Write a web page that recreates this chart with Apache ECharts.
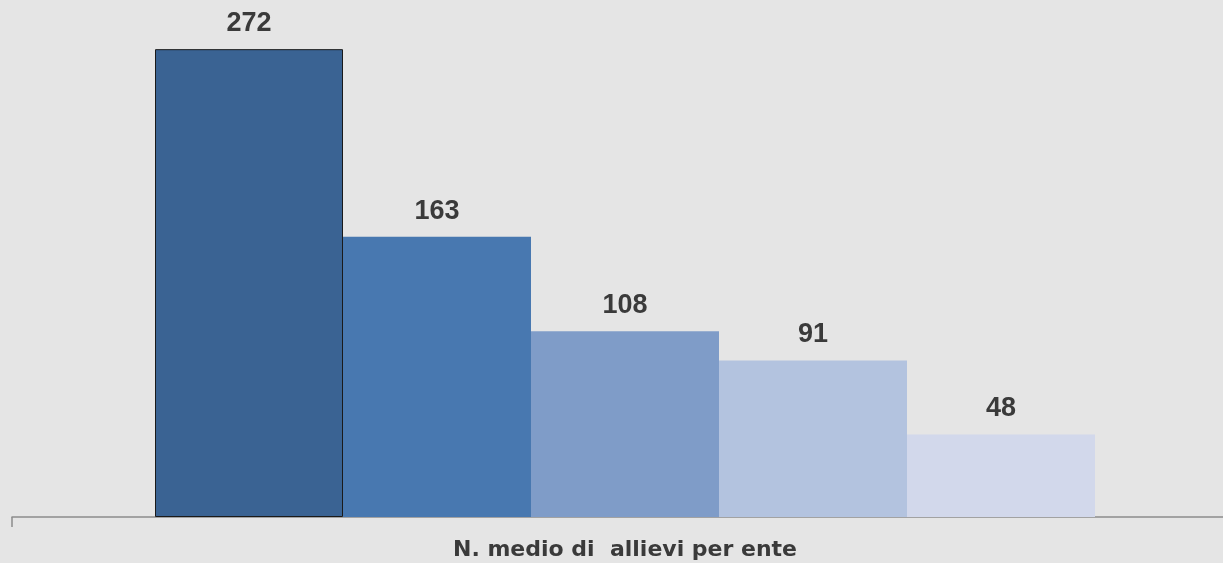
<!DOCTYPE html>
<html><head><meta charset="utf-8">
<script src="https://cdn.jsdelivr.net/npm/echarts@6/dist/echarts.min.js"></script>
<style>html,body{margin:0;padding:0;background:#e5e5e5;overflow:hidden;}#c{width:1223px;height:563px;}</style>
</head><body><div id="c"></div>
<script>
const categories = ["N. medio di  allievi per ente"];
const seriesNames = ["S1","S2","S3","S4","S5"];
const values = [272, 163, 108, 91, 48];
const colors = ["#3a6393", "#4878b0", "#7f9cc8", "#b3c3df", "#d2d8eb"];

const chart = echarts.init(document.getElementById('c'));
chart.setOption({
  backgroundColor: '#e5e5e5',
  animation: false,
  grid: {left: 12, width: 1226, top: 1, bottom: 46, outerBoundsMode: 'none', containLabel: false},
  xAxis: {
    type: 'category', data: categories,
    axisLine: {lineStyle: {color: '#8c8c8c', width: 1.5}},
    axisTick: {show: true, length: 10, lineStyle: {color: '#8c8c8c', width: 1.5}},
    axisLabel: {margin: 22, color: '#3a3a3a', fontSize: 22, fontWeight: 'bold', fontFamily: 'DejaVu Sans, sans-serif'}
  },
  yAxis: {type: 'value', min: 0, max: 300, show: false, splitLine: {show: false}},
  series: values.map((v, i) => ({
    name: seriesNames[i], type: 'bar', data: [v],
    barWidth: 188, barGap: '0%',
    itemStyle: {color: colors[i], borderColor: i === 0 ? '#1a1a1a' : colors[i], borderWidth: i === 0 ? 1 : 0},
    label: {show: true, position: 'top', distance: 12, color: '#3a3a3a', fontSize: 27, fontWeight: 'bold', fontFamily: 'Liberation Sans, Arial, sans-serif'}
  }))
});
</script></body></html>
